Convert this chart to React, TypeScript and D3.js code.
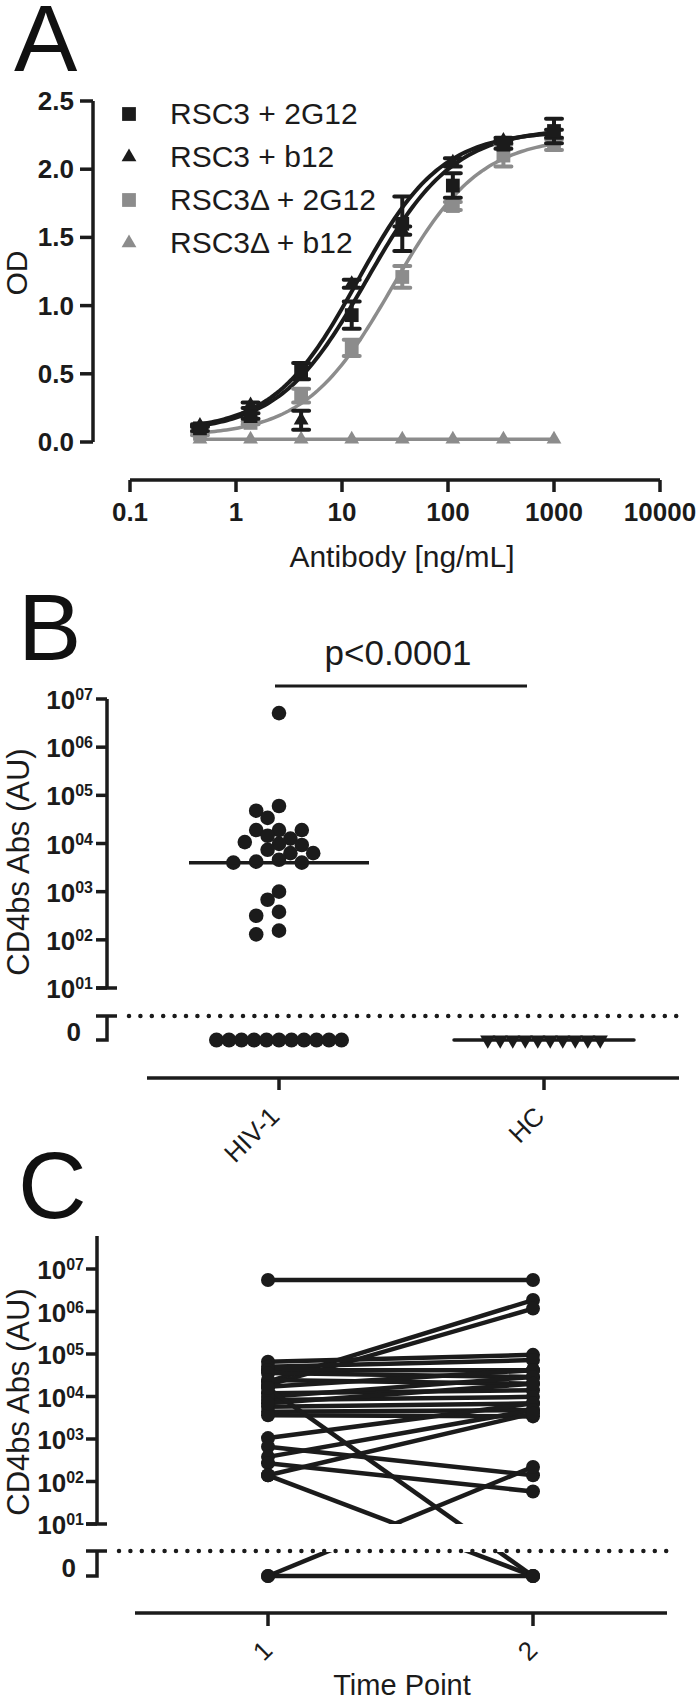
import React from 'react';
import * as d3 from 'd3';

// ---------- Panel A: titration of RSC3 / RSC3Δ ----------
const concentrations = [0.457, 1.372, 4.115, 12.35, 37.04, 111.1, 333.3, 1000];
const seriesLabels = ['RSC3 + 2G12', 'RSC3 + b12', 'RSC3\u0394 + 2G12', 'RSC3\u0394 + b12'];
const odRsc3_2G12 = [0.10, 0.19, 0.52, 0.93, 1.60, 1.88, 2.18, 2.28];
const semRsc3_2G12 = [0.02, 0.02, 0.06, 0.10, 0.20, 0.09, 0.03, 0.09];
const odRsc3_b12 = [0.12, 0.27, 0.16, 1.16, 1.55, 2.05, 2.21, 2.26];
const semRsc3_b12 = [0.01, 0.02, 0.07, 0.03, 0.03, 0.03, 0.02, 0.03];
const odRsc3d_2G12 = [0.06, 0.14, 0.34, 0.69, 1.21, 1.73, 2.10, 2.18];
const semRsc3d_2G12 = [0.01, 0.01, 0.05, 0.06, 0.08, 0.03, 0.08, 0.04];
const odRsc3d_b12 = [0.02, 0.02, 0.02, 0.02, 0.02, 0.02, 0.02, 0.02];
const semRsc3d_b12 = [0, 0, 0, 0, 0, 0, 0, 0];
// sigmoid (4PL) fit parameters, one per series
const fitBottom = [0.07, 0.08, 0.04, 0.02];
const fitTop = [2.30, 2.28, 2.24, 0.02];
const fitEC50 = [17, 14, 30, 1];
const fitHill = [1.05, 1.1, 1.05, 1];
const odTicks = [0, 0.5, 1, 1.5, 2, 2.5];
const concTicks = [0.1, 1, 10, 100, 1000, 10000];

// ---------- Panel B: CD4bs Abs by group ----------
const groupsB = ['HIV-1', 'HC'];
const hivCd4bs = [5.1e6, 6.0e4, 4.8e4, 3.4e4, 1.9e4, 1.9e4, 1.9e4, 1.45e4, 1.26e4, 1.07e4,
  9.8e3, 9.3e3, 7.4e3, 6.3e3, 6.3e3, 4.6e3, 4.2e3, 4.0e3, 4.0e3, 1.0e3, 680, 380, 316, 155, 130,
  0, 0, 0, 0, 0, 0, 0, 0, 0, 0, 0];
const hcCd4bs = [0, 0, 0, 0, 0, 0, 0, 0, 0, 0];
const decadeTicks = [1, 2, 3, 4, 5, 6, 7];

// ---------- Panel C: paired time points ----------
const timePoints = ['1', '2'];
const tp1 = [5.5e6, 22400, 18600, 66000, 50000, 41700, 35500, 24500, 17000, 12000, 8300, 5750,
  4400, 3600, 9800, 6900, 15800, 1050, 660, 380, 270, 140, 140, 0, 0];
const tp2 = [5.5e6, 1.86e6, 1.17e6, 95500, 72000, 41700, 28800, 20000, 41700, 14100, 9800, 6900,
  4800, 3400, 28800, 20000, 0, 6900, 140, 4800, 58, 4000, 0, 220, 0];

const BLACK = '#1b1b1b';
const GRAY = '#8c8c8c';
const FONT = "'Liberation Sans', Arial, Helvetica, sans-serif";

const fourPL = (c: number, i: number) =>
  fitBottom[i] + (fitTop[i] - fitBottom[i]) / (1 + Math.pow(fitEC50[i] / c, fitHill[i]));

const squarePath = d3.symbol(d3.symbolSquare, 190)() as string;
const trianglePath = d3.symbol(d3.symbolTriangle, 95)() as string;

function PanelA() {
  const x = d3.scaleLog().domain([0.1, 10000]).range([130, 660]);
  const y = d3.scaleLinear().domain([0, 2.5]).range([442, 101]);
  const means = [odRsc3_2G12, odRsc3_b12, odRsc3d_2G12, odRsc3d_b12];
  const sems = [semRsc3_2G12, semRsc3_b12, semRsc3d_2G12, semRsc3d_b12];
  const colors = [BLACK, BLACK, GRAY, GRAY];
  const shapes = [squarePath, trianglePath, squarePath, trianglePath];
  const lo = Math.log10(concentrations[0]);
  const hi = Math.log10(concentrations[concentrations.length - 1]);
  const samples = d3.range(0, 121).map(k => Math.pow(10, lo + (k / 120) * (hi - lo)));
  const line = d3.line<[number, number]>().x(d => x(d[0])).y(d => y(d[1]));
  const order = [3, 2, 1, 0];

  return (
    <g>
      <text x={14} y={71} fontSize={95} fontFamily={FONT} fill="#111">A</text>
      {/* y axis */}
      <path d="M93,101V442" stroke={BLACK} strokeWidth={3.5} />
      {odTicks.map(t => (
        <g key={t}>
          <path d={`M80,${y(t)}H93`} stroke={BLACK} strokeWidth={3.5} />
          <text x={74} y={y(t) + 9} textAnchor="end" fontSize={26} fontWeight="bold" fontFamily={FONT} fill={BLACK}>
            {t.toFixed(1)}
          </text>
        </g>
      ))}
      <text transform="translate(16,273) rotate(-90)" textAnchor="middle" dominantBaseline="central"
        fontSize={30} fontFamily={FONT} fill={BLACK}>OD</text>
      {/* x axis */}
      <path d="M130,480H660" stroke={BLACK} strokeWidth={3.5} />
      {concTicks.map(t => (
        <g key={t}>
          <path d={`M${x(t)},480V492`} stroke={BLACK} strokeWidth={3.5} />
          <text x={x(t)} y={521} textAnchor="middle" fontSize={26} fontWeight="bold" fontFamily={FONT} fill={BLACK}>
            {String(t)}
          </text>
        </g>
      ))}
      <text x={402} y={567} textAnchor="middle" fontSize={30} fontFamily={FONT} fill={BLACK}>Antibody [ng/mL]</text>
      {/* fitted curves */}
      {order.map(i => (
        <path key={'c' + i} d={line(samples.map(c => [c, fourPL(c, i)]) as [number, number][]) || ''}
          fill="none" stroke={colors[i]} strokeWidth={i < 2 ? 4 : 3.5} />
      ))}
      {/* points with SEM */}
      {order.map(i => (
        <g key={'p' + i} fill={colors[i]} stroke={colors[i]}>
          {concentrations.map((c, j) => {
            const cx = x(c);
            const m = means[i][j];
            const e = sems[i][j];
            return (
              <g key={j}>
                {e > 0 && (
                  <path d={`M${cx},${y(m - e)}V${y(m + e)}M${cx - 8},${y(m - e)}H${cx + 8}M${cx - 8},${y(m + e)}H${cx + 8}`}
                    fill="none" strokeWidth={4} strokeLinecap="round" />
                )}
                <path d={shapes[i]} transform={`translate(${cx},${y(m)})`} stroke="none" />
              </g>
            );
          })}
        </g>
      ))}
      {/* legend */}
      {seriesLabels.map((s, i) => (
        <g key={s}>
          <path d={shapes[i]} transform={`translate(129,${124 + i * 43 - 10})`} fill={colors[i]} />
          <text x={170} y={124 + i * 43} fontSize={30} fontFamily={FONT} fill={BLACK}>{s}</text>
        </g>
      ))}
    </g>
  );
}

type LogAxisProps = {
  axisX: number; axisTop: number; y: d3.ScaleLogarithmic<number, number>;
  breakY: number; zeroY: number; dotEnd: number; labelRight: number; zeroLabelRight: number; zeroLabelY: number;
};

function LogAxis({ axisX, axisTop, y, breakY, zeroY, dotEnd, labelRight, zeroLabelRight, zeroLabelY }: LogAxisProps) {
  const bottom = y(10);
  return (
    <g>
      <path d={`M${axisX},${axisTop}V${bottom}M${axisX - 11},${bottom}H${axisX + 10}`} stroke={BLACK} strokeWidth={3.5} fill="none" />
      {decadeTicks.map(k => (
        <g key={k}>
          <path d={`M${axisX - 11},${y(Math.pow(10, k))}H${axisX}`} stroke={BLACK} strokeWidth={3.5} />
          <text x={labelRight} y={y(Math.pow(10, k)) + 10} textAnchor="end" fontWeight="bold" fontFamily={FONT} fill={BLACK}>
            <tspan fontSize={26}>10</tspan>
            <tspan fontSize={16} dy={-9}>{'0' + k}</tspan>
          </text>
        </g>
      ))}
      <path d={`M${axisX - 11},${breakY}H${axisX + 10}M${axisX},${breakY}V${zeroY}H${axisX - 11}`} stroke={BLACK} strokeWidth={3.5} fill="none" />
      <text x={zeroLabelRight} y={zeroLabelY + 9} textAnchor="end" fontSize={26} fontWeight="bold" fontFamily={FONT} fill={BLACK}>0</text>
      <line x1={axisX + 22} x2={dotEnd} y1={breakY} y2={breakY} stroke={BLACK} strokeWidth={4.5}
        strokeDasharray="0 11.4" strokeLinecap="round" />
    </g>
  );
}

// simple column-scatter layout: greedy placement in steps of `step` px
function swarm(ys: number[], cx: number, step: number, minDist: number) {
  const placed: { x: number; y: number }[] = [];
  const out: number[] = new Array(ys.length);
  const order = d3.range(ys.length).sort((a, b) => ys[a] - ys[b]);
  for (const i of order) {
    for (let k = 0; k < 60; k++) {
      const off = k === 0 ? 0 : (k % 2 ? -Math.ceil(k / 2) : k / 2) * step;
      const px = cx + off;
      if (placed.every(p => Math.hypot(p.x - px, p.y - ys[i]) >= minDist)) {
        placed.push({ x: px, y: ys[i] });
        out[i] = px;
        break;
      }
    }
  }
  return out;
}

function PanelB() {
  const yLog = d3.scaleLog().domain([10, 1e7]).range([988, 699]);
  const zeroY = 1040;
  const yv = (v: number) => (v > 0 ? yLog(v) : zeroY);
  const x = d3.scalePoint<string>().domain(groupsB).range([279, 544]);
  const hx = x('HIV-1') as number;
  const cx = x('HC') as number;

  const pos = hivCd4bs.filter(v => v > 0);
  const posX = swarm(pos.map(yv), hx, 11.4, 12.5);
  const hivZeros = hivCd4bs.filter(v => v === 0);
  const zeroStep = 12.5;
  const hivMed = d3.median(hivCd4bs) as number;
  const hcMed = d3.median(hcCd4bs) as number;
  const tri = d3.symbol(d3.symbolTriangle, 100)() as string;

  return (
    <g>
      <text x={18} y={660} fontSize={95} fontFamily={FONT} fill="#111">B</text>
      <text transform="translate(18,862) rotate(-90)" textAnchor="middle" dominantBaseline="central"
        fontSize={31} fontFamily={FONT} fill={BLACK}>CD4bs Abs (AU)</text>
      <LogAxis axisX={107} axisTop={699} y={yLog} breakY={1016} zeroY={zeroY} dotEnd={679}
        labelRight={93} zeroLabelRight={81} zeroLabelY={1032} />
      {/* x axis */}
      <path d="M147,1078H679" stroke={BLACK} strokeWidth={3.5} />
      {groupsB.map(g => (
        <g key={g}>
          <path d={`M${x(g)},1078V1090`} stroke={BLACK} strokeWidth={3.5} />
          <text transform={`translate(${(x(g) as number) + 2},1118) rotate(-45)`} textAnchor="end"
            fontSize={26} fontFamily={FONT} fill={BLACK}>{g}</text>
        </g>
      ))}
      {/* significance */}
      <text x={398} y={665} textAnchor="middle" fontSize={35} fontFamily={FONT} fill={BLACK}>p&lt;0.0001</text>
      <path d={`M${hx - 4},686H${cx - 17}`} stroke={BLACK} strokeWidth={3} />
      {/* HIV-1 dots */}
      <g fill={BLACK}>
        {pos.map((v, i) => <circle key={i} cx={posX[i]} cy={yv(v)} r={7.3} />)}
        {hivZeros.map((v, i) => (
          <circle key={'z' + i} cx={hx + (i - (hivZeros.length - 1) / 2) * zeroStep} cy={yv(v)} r={7.5} />
        ))}
      </g>
      <path d={`M${hx - 90},${yv(hivMed)}H${hx + 90}`} stroke={BLACK} strokeWidth={3.5} />
      {/* HC triangles */}
      <path d={`M${cx - 90},${yv(hcMed)}H${cx + 90}`} stroke={BLACK} strokeWidth={3.5} strokeLinecap="round" />
      <g fill={BLACK}>
        {hcCd4bs.map((v, i) => (
          <path key={i} d={tri}
            transform={`translate(${cx + (i - (hcCd4bs.length - 1) / 2) * zeroStep},${yv(v)}) rotate(180)`} />
        ))}
      </g>
    </g>
  );
}

function PanelC() {
  const yLog = d3.scaleLog().domain([10, 1e7]).range([1524, 1269]);
  const zeroY = 1576;
  const breakY = 1551;
  const yv = (v: number) => (v > 0 ? yLog(v) : zeroY);
  const x = d3.scalePoint<string>().domain(timePoints).range([268, 533]);
  const x1 = x('1') as number;
  const x2 = x('2') as number;

  return (
    <g>
      <defs>
        <clipPath id="clipC">
          <rect x={0} y={1200} width={700} height={1524 - 1200} />
          <rect x={0} y={breakY + 1} width={700} height={60} />
        </clipPath>
      </defs>
      <text x={18} y={1218} fontSize={95} fontFamily={FONT} fill="#111">C</text>
      <text transform="translate(18,1402) rotate(-90)" textAnchor="middle" dominantBaseline="central"
        fontSize={31} fontFamily={FONT} fill={BLACK}>CD4bs Abs (AU)</text>
      <LogAxis axisX={97} axisTop={1236} y={yLog} breakY={breakY} zeroY={zeroY} dotEnd={667}
        labelRight={84} zeroLabelRight={76} zeroLabelY={1568} />
      <path d="M135,1613H667" stroke={BLACK} strokeWidth={3.5} />
      {timePoints.map(t => (
        <g key={t}>
          <path d={`M${x(t)},1613V1626`} stroke={BLACK} strokeWidth={3.5} />
          <text transform={`translate(${(x(t) as number) + 6},1652) rotate(-45)`} textAnchor="end"
            fontSize={26} fontFamily={FONT} fill={BLACK}>{t}</text>
        </g>
      ))}
      <text x={402} y={1695} textAnchor="middle" fontSize={29} fontFamily={FONT} fill={BLACK}>Time Point</text>
      <g clipPath="url(#clipC)" stroke={BLACK} strokeWidth={4.5}>
        {tp1.map((v, i) => (
          <line key={i} x1={x1} y1={yv(v)} x2={x2} y2={yv(tp2[i])} />
        ))}
      </g>
      <g fill={BLACK}>
        {tp1.map((v, i) => <circle key={'a' + i} cx={x1} cy={yv(v)} r={7} />)}
        {tp2.map((v, i) => <circle key={'b' + i} cx={x2} cy={yv(v)} r={7} />)}
      </g>
    </g>
  );
}

export default function App() {
  return (
    <svg width={700} height={1698} style={{ position: 'absolute', left: 0, top: 0, background: '#fff' }}>
      <rect width={700} height={1698} fill="#fff" />
      <PanelA />
      <PanelB />
      <PanelC />
    </svg>
  );
}
